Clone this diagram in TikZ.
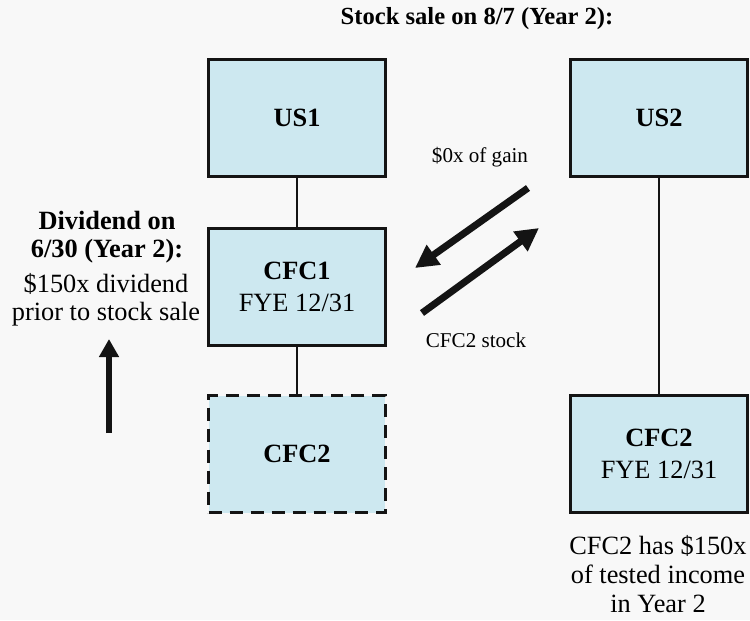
\documentclass[tikz,border=0pt]{standalone}
\usepackage{fontspec}
\setmainfont{Liberation Serif}
\usetikzlibrary{arrows.meta}
\definecolor{boxblue}{RGB}{205,232,240}
\definecolor{pagegray}{RGB}{248,248,248}

\begin{document}
\begin{tikzpicture}[x=0.02cm,y=-0.02cm,
  entity/.style={draw=black!92,fill=boxblue,line width=0.075cm,minimum width=3.54cm,minimum height=2.34cm,align=center,font=\fontsize{15}{18}\selectfont},
  big/.style={font=\fontsize{15}{16}\selectfont,align=center,inner sep=0pt},
  small/.style={font=\fontsize{12}{14}\selectfont,inner sep=0pt},
  flow/.style={line width=0.14cm,black!92,-{Triangle[length=0.46cm,width=0.46cm]}},
  link/.style={line width=0.6pt,black!92}]
  \fill[pagegray] (0,0) rectangle (750,620);
  \useasboundingbox (0,0) rectangle (750,620);
  \node[big,font=\fontsize{14}{16}\selectfont\bfseries] (title) at (477,19) {Stock sale on 8/7 (Year 2):};
  \node[entity] (us1) at (297,118) {\textbf{US1}};
  \node[entity] (cfc1) at (297,287) {\textbf{CFC1}\\FYE 12/31};
  \node[entity,dashed,dash pattern=on 0.26cm off 0.16cm] (cfc2a) at (297,454) {\textbf{CFC2}};
  \node[entity] (us2) at (659,118) {\textbf{US2}};
  \node[entity] (cfc2b) at (659,454) {\textbf{CFC2}\\FYE 12/31};
  \draw[link] (us1) -- (cfc1);
  \draw[link] (cfc1) -- (cfc2a);
  \draw[link] (us2) -- (cfc2b);
  \node[big,font=\fontsize{15}{16}\selectfont\bfseries] (divdate) at (107,237) {Dividend on\\6/30 (Year 2):};
  \node[big] (divamt) at (106,300) {\$150x dividend\\prior to stock sale};
  \coordinate (divtail) at (109,433);
  \coordinate (divtip) at (109,339);
  \draw[flow,line width=0.125cm,-{Triangle[length=0.36cm,width=0.38cm]}] (divtail) -- (divtip);
  \coordinate (gaintail) at (528,188);
  \coordinate (gaintip) at (415,268);
  \coordinate (stocktail) at (422,313);
  \coordinate (stocktip) at (539,228);
  \draw[flow] (gaintail) -- (gaintip);
  \draw[flow] (stocktail) -- (stocktip);
  \node[small] (gain) at (480,157) {\$0x of gain};
  \node[small] (stock) at (476,340) {CFC2 stock};
  \node[big,font=\fontsize{15}{16.5}\selectfont] (tested) at (658,574) {CFC2 has \$150x\\of tested income\\in Year 2};
\end{tikzpicture}
\end{document}
